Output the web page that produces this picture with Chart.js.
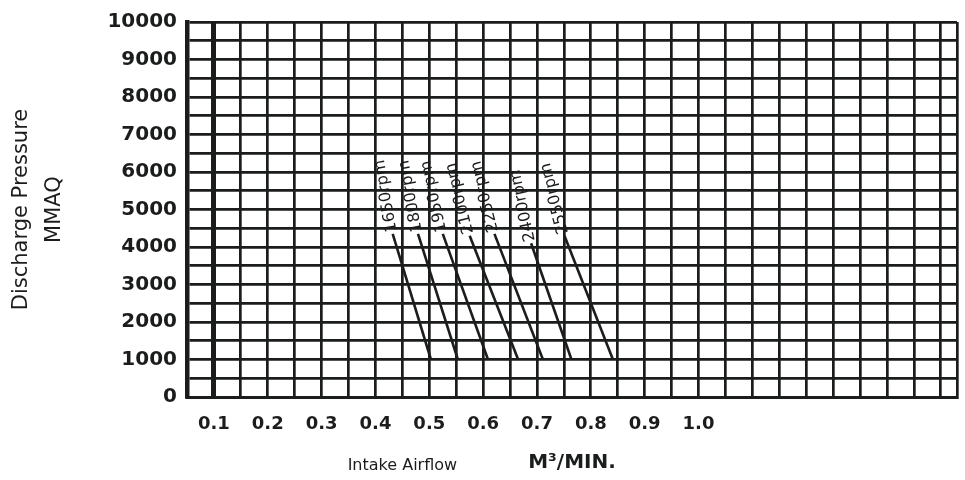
<!DOCTYPE html>
<html>
<head>
<meta charset="utf-8">
<script src="https://cdn.jsdelivr.net/npm/chart.js@4.4.1/dist/chart.umd.min.js"></script>
<style>
  html, body { margin: 0; padding: 0; background: #ffffff; }
  #wrap { width: 965px; height: 480px; }
</style>
</head>
<body>
<div id="wrap"><canvas id="c" width="965" height="480"></canvas></div>
<script>
// ---- data ----
const xTickLabels = ['0.1', '0.2', '0.3', '0.4', '0.5', '0.6', '0.7', '0.8', '0.9', '1.0'];
const yTickLabels = ['0', '1000', '2000', '3000', '4000', '5000', '6000', '7000', '8000', '9000', '10000'];
const rpmLabels = ['1650rpm', '1800rpm', '1950rpm', '2100rpm', '2250rpm', '2400rpm', '2550rpm'];
const flowTop = [0.432, 0.479, 0.525, 0.575, 0.621, 0.689, 0.751];
const pressureTop = [4350, 4350, 4350, 4300, 4350, 4100, 4300];
const flowBottom = [0.503, 0.553, 0.609, 0.665, 0.711, 0.764, 0.841];
const pressureBottom = [1000, 1000, 1000, 1000, 1000, 1000, 1000];

const INK = '#1b1d1c';
const X_MIN = 0.05, X_MAX = 1.48, X_STEP = 0.05;

const datasets = rpmLabels.map((name, i) => ({
  label: name,
  data: [
    { x: flowTop[i], y: pressureTop[i] },
    { x: flowBottom[i], y: pressureBottom[i] }
  ],
  showLine: true,
  borderColor: INK,
  borderWidth: 2.6,
  pointRadius: 0,
  fill: false,
  tension: 0
}));

const bgPlugin = {
  id: 'bg',
  beforeDraw(chart) {
    const ctx = chart.ctx;
    ctx.save();
    ctx.fillStyle = '#ffffff';
    ctx.fillRect(0, 0, chart.width, chart.height);
    ctx.restore();
  }
};

const curveLabels = {
  id: 'curveLabels',
  afterDatasetsDraw(chart) {
    const ctx = chart.ctx;
    ctx.save();
    ctx.fillStyle = INK;
    ctx.font = '16px "DejaVu Sans"';
    ctx.textAlign = 'left';
    ctx.textBaseline = 'middle';
    chart.data.datasets.forEach((ds, i) => {
      const meta = chart.getDatasetMeta(i);
      const p0 = meta.data[0], p1 = meta.data[1];
      const ang = Math.atan2(p0.y - p1.y, p0.x - p1.x) + 0.12;
      ctx.save();
      ctx.translate(p0.x + Math.cos(ang) * 2, p0.y + Math.sin(ang) * 2);
      ctx.rotate(ang);
      ctx.fillText(ds.label, 0, 0);
      ctx.restore();
    });
    ctx.restore();
  }
};

const xTitle = {
  id: 'xTitle',
  afterDraw(chart) {
    const ctx = chart.ctx;
    const xs = chart.scales.x;
    ctx.save();
    ctx.fillStyle = INK;
    ctx.textAlign = 'center';
    ctx.textBaseline = 'middle';
    ctx.font = '16px "DejaVu Sans"';
    ctx.fillText('Intake Airflow', xs.getPixelForValue(0.45), 466);
    ctx.font = 'bold 20px "DejaVu Sans"';
    ctx.fillText('M³/MIN.', xs.getPixelForValue(0.765), 463);
    ctx.restore();
  }
};

function isTenth(v) {
  const k = Math.round(v * 10);
  return Math.abs(v * 10 - k) < 1e-6 ? k : -1;
}

new Chart(document.getElementById('c'), {
  type: 'scatter',
  data: { datasets },
  plugins: [bgPlugin, curveLabels, xTitle],
  options: {
    responsive: false,
    animation: false,
    devicePixelRatio: 1,
    layout: { padding: { top: 14, right: 8, left: 0, bottom: 0 } },
    plugins: {
      legend: { display: false },
      tooltip: { enabled: false }
    },
    scales: {
      x: {
        type: 'linear',
        min: X_MIN,
        max: X_MAX,
        afterBuildTicks(scale) {
          const t = [];
          const n = Math.floor((X_MAX - X_MIN) / X_STEP + 1e-9);
          for (let k = 0; k <= n; k++) t.push({ value: Math.round((X_MIN + k * X_STEP) * 100) / 100 });
          t.push({ value: X_MAX });
          scale.ticks = t;
        },
        afterFit(scale) {
          scale.height = 83;
          scale.paddingLeft = 0;
          scale.paddingRight = 0;
        },
        ticks: {
          autoSkip: false,
          maxRotation: 0,
          padding: 17,
          color: INK,
          font: { family: '"DejaVu Sans"', size: 18, weight: 'bold' },
          callback(v) {
            const k = isTenth(v);
            return (k >= 1 && k <= 10) ? xTickLabels[k - 1] : '';
          }
        },
        grid: {
          color: INK,
          drawTicks: false,
          lineWidth(ctx) {
            return (ctx.tick && Math.abs(ctx.tick.value - 0.1) < 1e-6) ? 5 : 2.7;
          }
        },
        border: { display: true, color: INK, width: 3 }
      },
      y: {
        min: 0,
        max: 10000,
        afterFit(scale) { scale.width = 187; },
        ticks: {
          stepSize: 500,
          autoSkip: false,
          padding: 10,
          color: INK,
          font: { family: '"DejaVu Sans"', size: 20, weight: 'bold' },
          callback(v) {
            return (v % 1000 === 0) ? yTickLabels[v / 1000] : '';
          }
        },
        grid: {
          color: INK,
          drawTicks: false,
          lineWidth: 2.7
        },
        border: { display: true, color: INK, width: 4.5 },
        title: {
          display: true,
          text: ['Discharge Pressure', 'MMAQ'],
          color: INK,
          font: { family: '"DejaVu Sans"', size: 21, lineHeight: 1.57 },
          padding: { top: 5.5, bottom: 0 }
        }
      }
    }
  }
});
</script>
</body>
</html>
